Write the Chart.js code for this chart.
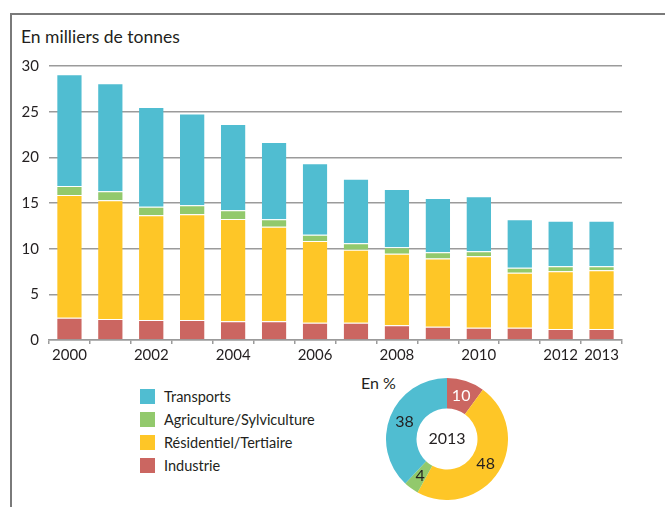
<!DOCTYPE html>
<html lang="fr">
<head>
<meta charset="utf-8">
<script src="https://cdn.jsdelivr.net/npm/chart.js@4.4.1/dist/chart.umd.min.js"></script>
<style>
  html, body { margin: 0; padding: 0; background: #fff; }
  body { width: 665px; height: 507px; position: relative; overflow: hidden;
         font-family: Lato, "Liberation Sans", sans-serif; color: #231f20; }
  #frame { position: absolute; left: 10px; top: 13px; right: 0; bottom: 0;
           border-top: 2px solid #7a7a7a; border-left: 2px solid #7a7a7a; }
  #title { position: absolute; left: 21px; top: 26px; font-size: 17.5px; }
  #barChart { position: absolute; left: 0; top: 0; }
  #pieChart { position: absolute; left: 386px; top: 378px; }
  #unit { position: absolute; left: 361px; top: 373px; font-size: 16px; }
  #legend { position: absolute; left: 140px; top: 389px; font-size: 14.5px; }
  .item { height: 15px; margin-bottom: 8px; display: flex; align-items: center; }
  .swatch { width: 15px; height: 15px; margin-right: 9px; }
</style>
</head>
<body>
<div id="frame"></div>
<div id="title">En milliers de tonnes</div>
<canvas id="barChart" width="665" height="370"></canvas>
<div id="unit">En %</div>
<div id="legend"></div>
<canvas id="pieChart" width="122" height="122"></canvas>
<script>
const years = ['2000', '2001', '2002', '2003', '2004', '2005', '2006',
               '2007', '2008', '2009', '2010', '2011', '2012', '2013'];
const shownYears = ['2000', '2002', '2004', '2006', '2008', '2010', '2012', '2013'];

const industrie   = [2.44, 2.30, 2.19, 2.19, 2.04, 2.04, 1.90, 1.90, 1.61, 1.46, 1.35, 1.35, 1.20, 1.20];
const residentiel = [13.44, 12.99, 11.46, 11.57, 11.21, 10.37, 8.94, 7.99, 7.84, 7.45, 7.81, 6.02, 6.32, 6.43];
const agriculture = [0.98, 0.99, 0.95, 0.98, 0.95, 0.80, 0.69, 0.69, 0.70, 0.69, 0.55, 0.55, 0.55, 0.44];
const transports  = [12.24, 11.82, 10.90, 10.06, 9.45, 8.47, 7.82, 7.08, 6.38, 5.95, 6.02, 5.29, 4.99, 4.99];

const yTicks = [0, 5, 10, 15, 20, 25, 30];

// 2013 shares, clockwise from the top
const shareLabels = ['Industrie', 'Résidentiel/Tertiaire', 'Agriculture/Sylviculture', 'Transports'];
const shares2013 = [10, 48, 4, 38];

const colors = {
  'Transports': '#50bdd1',
  'Agriculture/Sylviculture': '#92c96c',
  'Résidentiel/Tertiaire': '#fec627',
  'Industrie': '#cb6661'
};
const legendOrder = ['Transports', 'Agriculture/Sylviculture', 'Résidentiel/Tertiaire', 'Industrie'];

const textColor = '#231f20';
const gridColor = '#9b9b9b';
const fontFamily = 'Lato, "Liberation Sans", sans-serif';

function barSet(label, data) {
  return {
    label: label,
    data: data,
    backgroundColor: colors[label],
    borderColor: 'rgba(255,255,255,0.55)',
    borderWidth: { top: 1, left: 0, right: 0, bottom: 0 },
    borderSkipped: 'bottom',
    barPercentage: 0.6,
    categoryPercentage: 1.0
  };
}

new Chart(document.getElementById('barChart'), {
  type: 'bar',
  data: {
    labels: years,
    datasets: [
      barSet('Industrie', industrie),
      barSet('Résidentiel/Tertiaire', residentiel),
      barSet('Agriculture/Sylviculture', agriculture),
      barSet('Transports', transports)
    ]
  },
  options: {
    responsive: false,
    animation: false,
    layout: { padding: { top: 66, right: 43, bottom: 0, left: 0 } },
    plugins: { legend: { display: false }, tooltip: { enabled: false } },
    scales: {
      x: {
        stacked: true,
        grid: { drawOnChartArea: false, color: gridColor, lineWidth: 1.5, tickLength: 4, offset: true },
        border: { color: gridColor, width: 1.5 },
        ticks: {
          autoSkip: false, maxRotation: 0, padding: 2, color: textColor,
          font: { family: fontFamily, size: 15 },
          callback: function(value) {
            const y = this.getLabelForValue(value);
            return shownYears.includes(y) ? y : '';
          }
        },
        afterFit: function(scale) { scale.height = 30; }
      },
      y: {
        stacked: true,
        min: 0, max: 30,
        afterBuildTicks: function(scale) { scale.ticks = yTicks.map(v => ({ value: v })); },
        grid: { color: gridColor, lineWidth: 1.5, drawTicks: false },
        border: { display: false },
        ticks: { padding: 10, color: textColor, font: { family: fontFamily, size: 15 } },
        afterFit: function(scale) { scale.width = 49; }
      }
    }
  }
});

// legend, top to bottom in stack order from the top
const legendBox = document.getElementById('legend');
legendOrder.forEach(function(name) {
  const row = document.createElement('div');
  row.className = 'item';
  const sw = document.createElement('div');
  sw.className = 'swatch';
  sw.style.background = colors[name];
  const txt = document.createElement('span');
  txt.textContent = name;
  row.appendChild(sw);
  row.appendChild(txt);
  legendBox.appendChild(row);
});

// values on the ring and the year in the hole
const ringLabels = {
  id: 'ringLabels',
  afterDatasetsDraw(chart) {
    const ctx = chart.ctx;
    const meta = chart.getDatasetMeta(0);
    ctx.save();
    ctx.textAlign = 'center';
    ctx.textBaseline = 'middle';
    ctx.font = '16px ' + fontFamily;
    meta.data.forEach(function(arc, i) {
      const p = arc.tooltipPosition();
      ctx.fillStyle = i === 0 ? '#ffffff' : textColor;
      ctx.fillText(String(shares2013[i]), p.x, p.y);
    });
    const c = meta.data[0];
    ctx.fillStyle = textColor;
    ctx.fillText('2013', c.x, c.y);
    ctx.restore();
  }
};

new Chart(document.getElementById('pieChart'), {
  type: 'doughnut',
  data: {
    labels: shareLabels,
    datasets: [{
      data: shares2013,
      backgroundColor: shareLabels.map(n => colors[n]),
      borderWidth: 0
    }]
  },
  options: {
    responsive: false,
    animation: false,
    cutout: '50%',
    plugins: { legend: { display: false }, tooltip: { enabled: false } }
  },
  plugins: [ringLabels]
});
</script>
</body>
</html>
